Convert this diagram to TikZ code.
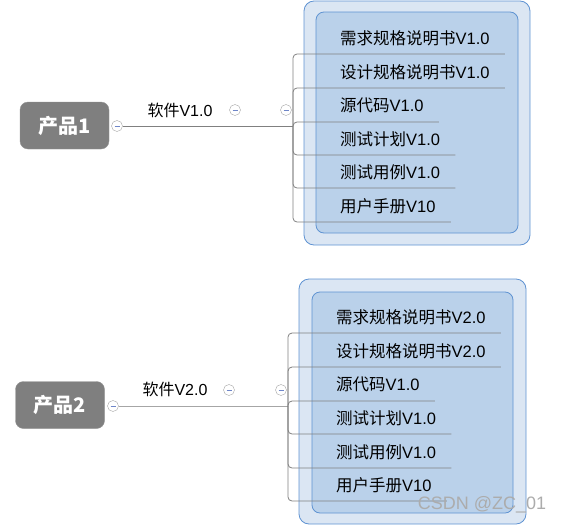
\documentclass[tikz,border=0pt]{standalone}
\usepackage{fontspec}
\setmainfont{Liberation Sans}
\newfontfamily\cjk{Noto Sans CJK SC}
\newcommand\zh[1]{{\cjk #1}}
\definecolor{outerfill}{HTML}{DBE6F3}
\definecolor{innerfill}{HTML}{BAD1EA}
\definecolor{boxline}{HTML}{5F93D2}
\definecolor{prodgray}{HTML}{7F7F7F}
\definecolor{linegray}{HTML}{808080}
\definecolor{foldblue}{HTML}{6F86C8}
\begin{document}
\begin{tikzpicture}[x=1pt,y=-1pt,
  prod/.style={fill=prodgray,draw=prodgray!85!white,rounded corners=8pt,minimum width=89pt,minimum height=47pt,text=white,font=\fontsize{20}{20}\selectfont\cjk\bfseries},
  fold/.style={circle,draw=gray!70,fill=white,minimum size=11pt,inner sep=0pt,path picture={\draw[foldblue,line width=0.8pt] ([xshift=-2.5pt]path picture bounding box.center) -- ([xshift=2.5pt]path picture bounding box.center);}},
  soft/.style={font=\fontsize{16}{16}\selectfont},
  item/.style={anchor=south west,inner xsep=15pt,inner ysep=0pt,minimum height=32pt,font=\fontsize{16.5}{16.5}\selectfont},
  outerbox/.style={fill=outerfill,draw=boxline,line width=0.8pt,rounded corners=10pt},
  innerbox/.style={fill=innerfill,draw=boxline,line width=0.8pt,rounded corners=8pt},
  link/.style={draw=linegray,line width=0.8pt}]
\useasboundingbox (0,0) rectangle (562,525);
% product 1
\draw[outerbox] (304,1) rectangle (530,245);
\draw[innerbox] (316,12) rectangle (518,233);
\node[prod] (p1) at (64.5,125.5) {产品1};
\node[fold] (f1) at (117,126) {};
\node[soft] (s1) at (180,110) {\zh{软件}V1.0};
\node[fold] (f2) at (235,110) {};
\node[fold] (f3) at (286,110) {};
\coordinate (k1) at (293,126);
\draw[link] (f1) -- (k1);
\foreach \t/\y [count=\i] in {\zh{需求规格说明书}V1.0/54,\zh{设计规格说明书}V1.0/88,\zh{源代码}V1.0/122,\zh{测试计划}V1.0/155,\zh{测试用例}V1.0/188,\zh{用户手册}V10/222}{
  \node[item] (a\i) at (325,\y) {\t};
  \draw[link,rounded corners=4pt] (k1) |- (a\i.south east);
}
% product 2
\draw[outerbox] (299,279) rectangle (526,524);
\draw[innerbox] (312,292) rectangle (513,513);
\node[prod] (p2) at (60,405) {产品2};
\node[fold] (g1) at (113,406) {};
\node[soft] (s2) at (175,389) {\zh{软件}V2.0};
\node[fold] (g2) at (229,390) {};
\node[fold] (g3) at (281,390) {};
\coordinate (k2) at (288,406);
\draw[link,draw=linegray!70] (g1) -- (k2);
\foreach \t/\y [count=\i] in {\zh{需求规格说明书}V2.0/333,\zh{设计规格说明书}V2.0/367,\zh{源代码}V1.0/401,\zh{测试计划}V1.0/434,\zh{测试用例}V1.0/468,\zh{用户手册}V10/501}{
  \node[item] (b\i) at (321,\y) {\t};
  \draw[link,rounded corners=4pt] (k2) |- (b\i.south east);
}
\node[text=gray!65,font=\fontsize{18}{18}\selectfont] (wm) at (482,505) {CSDN @ZC\_01};
\end{tikzpicture}
\end{document}
